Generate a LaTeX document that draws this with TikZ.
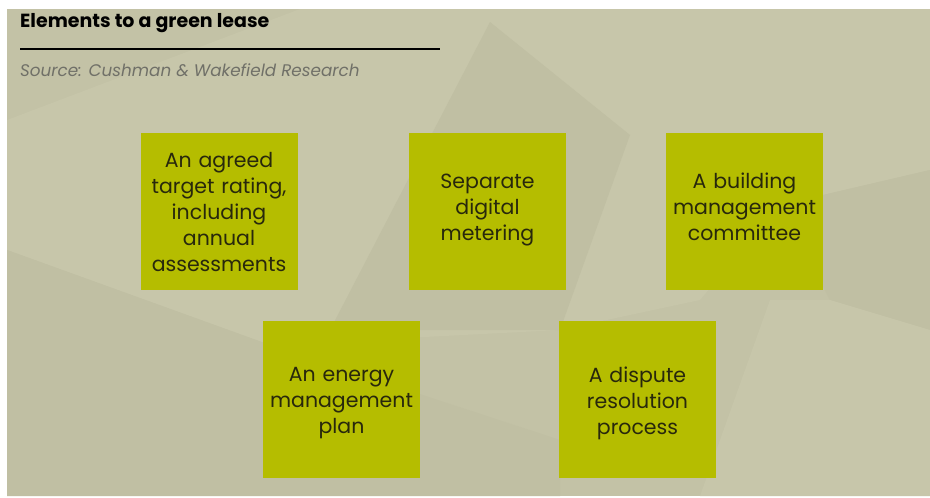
\documentclass[tikz,border=0pt]{standalone}
\usepackage{fontspec}
\setmainfont{Poppins}
\usetikzlibrary{calc,positioning}
\definecolor{bgbase}{RGB}{195,194,166}
\definecolor{bglight}{RGB}{199,198,170}
\definecolor{bgdark}{RGB}{192,191,163}
\definecolor{boxgreen}{RGB}{181,189,0}
\definecolor{boxtext}{RGB}{40,40,12}
\definecolor{srcgrey}{RGB}{112,112,104}
\tikzset{
  leasebox/.style={fill=boxgreen,minimum width=157pt,minimum height=157pt,inner sep=0pt},
  leasetext/.style={text width=155pt,align=center,inner sep=0pt,text=boxtext,
    font=\fontsize{20.5}{26}\selectfont}
}
\begin{document}
\begin{tikzpicture}[x=1pt,y=-1pt]
      \useasboundingbox (0,0) rectangle (930,498);
      % background
      \fill[white] (0,0) rectangle (930,498);
      \fill[bgbase] (7,9) rectangle (930,496);
      \fill[bglight] (300,9)--(930,9)--(930,170)--(780,205)--(700,300)--(560,330)--(270,345)--(7,250)--(7,120)--cycle;
      \fill[bgdark] (490,22)--(630,135)--(560,330)--(330,330)--cycle;
      \fill[bgdark] (7,250)--(270,345)--(560,440)--(560,496)--(7,496)--cycle;
      \fill[bgdark] (780,205)--(930,170)--(930,330)--(830,300)--cycle;
      \fill[bglight] (770,300)--(830,300)--(930,330)--(930,496)--(700,496)--cycle;
      % title
      \coordinate(T) at (20,23);
      \node[anchor=west,inner sep=0pt,font=\bfseries\fontsize{19}{22}\selectfont] (title) at (T) {Elements to a green lease};
      \coordinate(L1) at (20,49);
      \coordinate(L2) at (440,49);
      \draw[line width=1.6pt] (L1)--(L2);
      \node[anchor=west,inner sep=0pt,text=srcgrey,font=\itshape\fontsize{16.8}{20}\selectfont] (source) at (20,70) {Source: Cushman \& Wakefield Research};
      % boxes
      \coordinate(A) at (219,211);
      \coordinate(B) at (487.5,211);
      \coordinate(C) at (744.5,211);
      \coordinate(D) at (341.5,399.5);
      \coordinate(E) at (637.5,399.5);
      \node[leasebox] (ratingbox) at (A) {};
      \node[leasebox] (meteringbox) at (B) {};
      \node[leasebox] (committeebox) at (C) {};
      \node[leasebox] (energybox) at (D) {};
      \node[leasebox] (disputebox) at (E) {};
      \node[leasetext] (rating) at ($(A)+(0,1)$) {An agreed\\target rating,\\including\\annual\\assessments};
      \node[leasetext] (metering) at ($(B)+(0,-1)$) {Separate\\digital\\metering};
      \node[leasetext] (committee) at ($(C)+(0,-4)$) {A building\\management\\committee};
      \node[leasetext] (energy) at ($(D)+(0,4)$) {An energy\\management\\plan};
      \node[leasetext] (dispute) at ($(E)+(0,4)$) {A dispute\\resolution\\process};
    \end{tikzpicture}
\end{document}
